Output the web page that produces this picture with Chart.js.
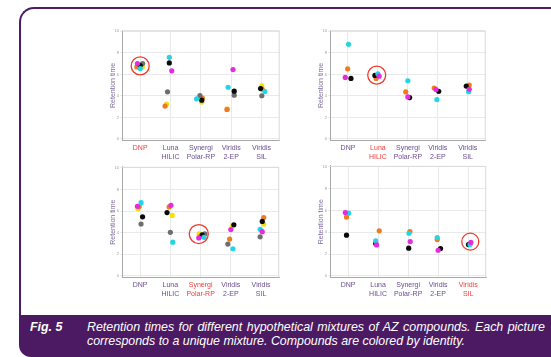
<!DOCTYPE html>
<html>
<head>
<meta charset="utf-8">
<script src="https://cdn.jsdelivr.net/npm/chart.js@4/dist/chart.umd.min.js"></script>
<style>
  html, body { margin:0; padding:0; width:551px; height:357px; overflow:hidden; background:#ffffff; }
  #frame { position:absolute; left:19px; top:7px; width:620px; height:330px; box-sizing:border-box;
           border-top:2.5px solid #4D1B68; border-left:2.5px solid #4D1B68; border-top-left-radius:15px; }
  #band { position:absolute; left:19px; top:315px; width:620px; height:42px; background:#4B1A62;
          border-bottom-left-radius:12px; }
  .cap { position:absolute; color:#ffffff; font-family:'Liberation Sans', Arial, sans-serif; font-style:italic;
         font-size:12.4px; white-space:nowrap; line-height:14px; }
  canvas { position:absolute; }
</style>
</head>
<body>
<div id="frame"></div>
<div id="band"></div>
<div class="cap" style="left:30px; top:320px; font-weight:bold;">Fig. 5</div>
<div class="cap" style="left:87px; top:320px; word-spacing:1px;">Retention times for different hypothetical mixtures of AZ compounds. Each picture</div>
<div class="cap" style="left:87px; top:334px;">corresponds to a unique mixture. Compounds are colored by identity.</div>

<canvas id="c1" width="195" height="150" style="left:95px; top:20px;"></canvas>
<canvas id="c2" width="193" height="150" style="left:303px; top:20px;"></canvas>
<canvas id="c3" width="195" height="151" style="left:95px; top:156px;"></canvas>
<canvas id="c4" width="193" height="151" style="left:303px; top:156px;"></canvas>

<script>
// ---------- DATA ----------
const categories = [["DNP"], ["Luna", "HILIC"], ["Synergi", "Polar-RP"], ["Viridis", "2-EP"], ["Viridis", "SIL"]];
const yTicks = [0, 2, 4, 6, 8, 10];
const yTitle = "Retention time";
const compounds = ["magenta", "cyan", "black", "gray", "orange", "yellow"];
const compoundColors = ["#E62AE0", "#22D4E4", "#0A0A0A", "#6E6E6E", "#F07A1E", "#F2E000"];

// highlighted column (1-based) per panel and circle centre (x, y)
const highlightCol = [1, 2, 3, 5];
const circleX = [1.0, 1.96, 2.94, 5.07];
const circleY = [6.79, 5.94, 3.88, 3.15];

// Panel A (top-left): retention times per column, and horizontal jitter
const a_magenta = [7.01, 6.33, null, 6.45, null];
const a_magenta_j = [-0.09, 0.04, 0, 0.06, 0];
const a_cyan = [6.54, 7.59, 3.73, 4.81, 4.41];
const a_cyan_j = [0.0, -0.04, -0.14, -0.10, 0.11];
const a_black = [6.82, 7.07, 3.61, 4.44, 4.69];
const a_black_j = [0.0, -0.04, 0.03, 0.10, -0.03];
const a_gray = [7.01, 4.38, 4.04, 4.07, 4.02];
const a_gray_j = [0.08, -0.10, -0.03, 0.10, 0.01];
const a_orange = [6.70, 3.06, 3.79, 2.75, 4.63];
const a_orange_j = [-0.11, -0.18, 0.05, -0.14, 0.02];
const a_yellow = [6.68, 3.24, 3.43, 2.78, 4.94];
const a_yellow_j = [0.07, -0.13, 0.03, -0.12, 0.01];

// Panel B (top-right)
const b_magenta = [5.72, 5.84, 3.91, 4.59, 4.62];
const b_magenta_j = [-0.09, 0.04, 0.0, -0.06, 0.05];
const b_cyan = [8.80, 6.06, 5.41, 3.66, 4.40];
const b_cyan_j = [0.02, 0.0, 0.0, -0.03, 0.03];
const b_black = [5.63, 5.91, 3.85, 4.43, 4.92];
const b_black_j = [0.10, -0.10, 0.06, 0.03, -0.05];
const b_gray = [null, null, null, null, null];
const b_gray_j = [0, 0, 0, 0, 0];
const b_orange = [6.52, 5.63, 4.37, 4.74, 5.01];
const b_orange_j = [-0.01, -0.06, -0.07, -0.12, 0.05];
const b_yellow = [null, null, null, null, null];
const b_yellow_j = [0, 0, 0, 0, 0];

// Panel C (bottom-left)
const c_magenta = [6.45, 6.54, 3.52, 4.29, 4.10];
const c_magenta_j = [-0.09, 0.02, -0.06, 0.0, 0.04];
const c_cyan = [6.78, 3.13, 3.58, 2.52, 4.32];
const c_cyan_j = [0.03, 0.08, 0.11, 0.07, -0.03];
const c_black = [5.47, 5.87, 3.81, 4.74, 5.05];
const c_black_j = [0.08, -0.11, 0.05, 0.10, 0.04];
const c_gray = [4.81, 4.04, 3.89, 2.95, 3.62];
const c_gray_j = [0.03, 0.0, 0.14, -0.10, -0.03];
const c_orange = [6.42, 6.39, 3.65, 3.41, 5.41];
const c_orange_j = [-0.03, -0.04, 0.0, -0.04, 0.09];
const c_yellow = [6.23, 5.60, 3.89, 4.59, 4.81];
const c_yellow_j = [-0.07, 0.06, -0.05, 0.05, 0.09];

// Panel D (bottom-right)
const d_magenta = [5.82, 2.85, 3.16, 2.36, 3.09];
const d_magenta_j = [-0.09, -0.05, 0.07, 0.0, 0.09];
const d_cyan = [5.76, 3.22, 3.92, 3.52, 2.88];
const d_cyan_j = [0.02, -0.08, 0.03, -0.03, 0.06];
const d_black = [3.74, 2.99, 2.55, 2.52, 2.88];
const d_black_j = [-0.05, -0.08, 0.02, 0.08, 0.01];
const d_gray = [null, null, null, null, null];
const d_gray_j = [0, 0, 0, 0, 0];
const d_orange = [5.40, 4.14, 4.08, 3.34, 3.00];
const d_orange_j = [-0.05, 0.04, 0.06, -0.03, 0.08];
const d_yellow = [null, null, null, null, null];
const d_yellow_j = [0, 0, 0, 0, 0];

const panelValues = [
  [a_magenta, a_cyan, a_black, a_gray, a_orange, a_yellow],
  [b_magenta, b_cyan, b_black, b_gray, b_orange, b_yellow],
  [c_magenta, c_cyan, c_black, c_gray, c_orange, c_yellow],
  [d_magenta, d_cyan, d_black, d_gray, d_orange, d_yellow]
];
const panelJitter = [
  [a_magenta_j, a_cyan_j, a_black_j, a_gray_j, a_orange_j, a_yellow_j],
  [b_magenta_j, b_cyan_j, b_black_j, b_gray_j, b_orange_j, b_yellow_j],
  [c_magenta_j, c_cyan_j, c_black_j, c_gray_j, c_orange_j, c_yellow_j],
  [d_magenta_j, d_cyan_j, d_black_j, d_gray_j, d_orange_j, d_yellow_j]
];

// ---------- STYLE ----------
const FONT = "'Liberation Sans', Arial, sans-serif";
const RED = "#F23A3A";
const PURPLE = "#6B4C92";
const circleRadius = [9, 9, 9.5, 8.5];

const frameBorder = {
  id: 'frameBorder',
  beforeDatasetsDraw(chart) {
    const a = chart.chartArea, ctx = chart.ctx;
    ctx.save();
    ctx.strokeStyle = '#D9D9D9';
    ctx.lineWidth = 1;
    ctx.beginPath();
    ctx.moveTo(a.left, a.top + 0.5);
    ctx.lineTo(a.right - 0.5, a.top + 0.5);
    ctx.lineTo(a.right - 0.5, a.bottom);
    ctx.stroke();
    ctx.restore();
  }
};

function makePanel(canvasId, p, padTop, xHeight) {
  const datasets = [];
  const hl = highlightCol[p];
  datasets.push({
    label: 'circle',
    data: [{ x: circleX[p], y: circleY[p] }],
    pointRadius: circleRadius[p],
    pointBackgroundColor: 'rgba(0,0,0,0)',
    pointBorderColor: '#EE3A2E',
    pointBorderWidth: 1.3,
    order: 0
  });
  compounds.forEach((name, k) => {
    const vals = panelValues[p][k];
    const jit = panelJitter[p][k];
    const pts = [];
    vals.forEach((v, i) => { if (v !== null) pts.push({ x: i + 1 + jit[i], y: v }); });
    if (pts.length) {
      datasets.push({
        label: name,
        data: pts,
        pointRadius: 2.6,
        pointBorderWidth: 0,
        pointBackgroundColor: compoundColors[k],
        pointBorderColor: compoundColors[k],
        order: 1 + k
      });
    }
  });

  new Chart(document.getElementById(canvasId), {
    type: 'scatter',
    data: { datasets },
    plugins: [frameBorder],
    options: {
      responsive: false,
      animation: false,
      events: [],
      layout: { padding: { top: padTop, right: 9, left: 0, bottom: 0 } },
      plugins: { legend: { display: false }, tooltip: { enabled: false } },
      scales: {
        x: {
          type: 'linear',
          min: 0.4,
          max: 5.6,
          afterBuildTicks: s => { s.ticks = categories.map((c, i) => ({ value: i + 1 })); },
          afterFit: s => { s.height = xHeight; },
          grid: { color: '#E9E9E9', lineWidth: 1, drawTicks: false },
          border: { color: '#A8A8A8', width: 1 },
          ticks: {
            padding: 3,
            autoSkip: false,
            maxRotation: 0,
            font: { family: FONT, size: 7, lineHeight: 1.24 },
            color: ctx => (ctx.tick && ctx.tick.value === hl) ? RED : PURPLE,
            callback: v => categories[Math.round(v) - 1]
          }
        },
        y: {
          min: -0.15,
          max: 10.1,
          afterBuildTicks: s => { s.ticks = yTicks.map(v => ({ value: v })); },
          afterFit: s => { s.width = 27; },
          grid: { color: '#E9E9E9', lineWidth: 1, drawTicks: true, tickLength: 2 },
          border: { color: '#A8A8A8', width: 1 },
          ticks: { padding: 1, font: { family: FONT, size: 4 }, color: '#9A9A9A' },
          title: {
            display: true,
            text: yTitle,
            color: '#7E6A9C',
            font: { family: FONT, size: 7 },
            padding: { top: 13.8, bottom: 0 }
          }
        }
      }
    }
  });
}

makePanel('c1', 0, 10, 29.4);
makePanel('c2', 1, 10, 29.4);
makePanel('c3', 2, 9.9, 29.4);
makePanel('c4', 3, 9.9, 29.4);
</script>
</body>
</html>
